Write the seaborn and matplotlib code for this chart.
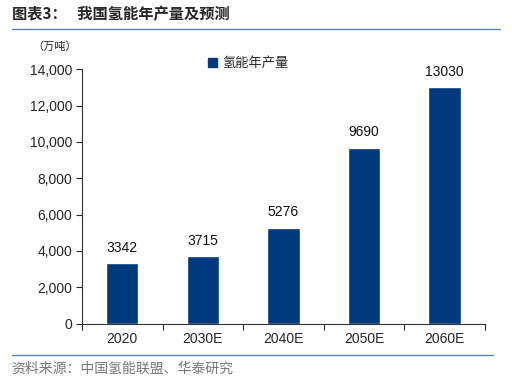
import matplotlib
matplotlib.use('Agg')
import matplotlib.pyplot as plt
import seaborn as sns
import pandas as pd
from matplotlib.ticker import FuncFormatter
from matplotlib.lines import Line2D
from matplotlib.patches import Patch

# data
years = ['2020', '2030E', '2040E', '2050E', '2060E']
output = [3342, 3715, 5276, 9690, 13030]
series_name = '氢能年产量'

df = pd.DataFrame({'year': years, 'output': output})

sns.set_style('white')
plt.rcParams['font.family'] = ['Liberation Sans', 'Noto Sans CJK SC', 'DejaVu Sans']
cjk = ['Noto Sans CJK SC', 'DejaVu Sans']

bar_color = '#003A7D'
line_color = '#5A82B4'

fig = plt.figure(figsize=(5.12, 3.86), dpi=100)
ax = fig.add_axes([0.160, 0.1615, 0.787, 0.659])

sns.barplot(data=df, x='year', y='output', color=bar_color, width=0.4,
            saturation=1, ax=ax)

for p, v in zip(ax.patches, output):
    ax.annotate(str(v), (p.get_x() + p.get_width() / 2, p.get_height()),
                xytext=(0, 6), textcoords='offset points',
                ha='center', va='bottom', fontsize=10, color='#111111')

ax.set_ylim(0, 14000)
ax.set_yticks(range(0, 14001, 2000))
ax.yaxis.set_major_formatter(FuncFormatter(lambda v, _: f'{int(v):,}'))
ax.set_xlim(-0.5, len(years) - 0.5)
ax.set_xticks([i - 0.5 for i in range(len(years) + 1)], minor=True)
ax.tick_params(axis='x', which='major', length=0, labelsize=10, pad=6)
ax.tick_params(axis='x', which='minor', length=4, width=0.8, direction='out', bottom=True)
ax.tick_params(axis='y', length=4, width=0.8, direction='out', left=True, labelsize=10, pad=3)
ax.set_xlabel('')
ax.set_ylabel('')
for s in ['top', 'right']:
    ax.spines[s].set_visible(False)
for s in ['left', 'bottom']:
    ax.spines[s].set_color('#333333')
    ax.spines[s].set_linewidth(0.8)

leg = ax.legend(handles=[Patch(color=bar_color, label=series_name)],
                loc='center left', bbox_to_anchor=(0.383, 0.835),
                bbox_transform=fig.transFigure, frameon=False,
                handlelength=0.7, handleheight=0.7, handletextpad=0.4,
                prop={'family': cjk, 'size': 9.5})

# header / footer
fig.text(0.023, 0.962, '图表3：   我国氢能年产量及预测', family=cjk,
         fontsize=11, fontweight='bold', va='center', ha='left')
fig.add_artist(Line2D([0.023, 0.977], [0.925, 0.925], color=line_color, lw=1))
fig.text(0.064, 0.878, '（万吨）', family=cjk, fontsize=8, va='center', ha='left')
fig.add_artist(Line2D([0.023, 0.962], [0.080, 0.080], color=line_color, lw=1))
fig.text(0.023, 0.045, '资料来源：中国氢能联盟、华泰研究', family=cjk,
         fontsize=10, color='#777777', va='center', ha='left')

fig.savefig('out.png', dpi=100)
